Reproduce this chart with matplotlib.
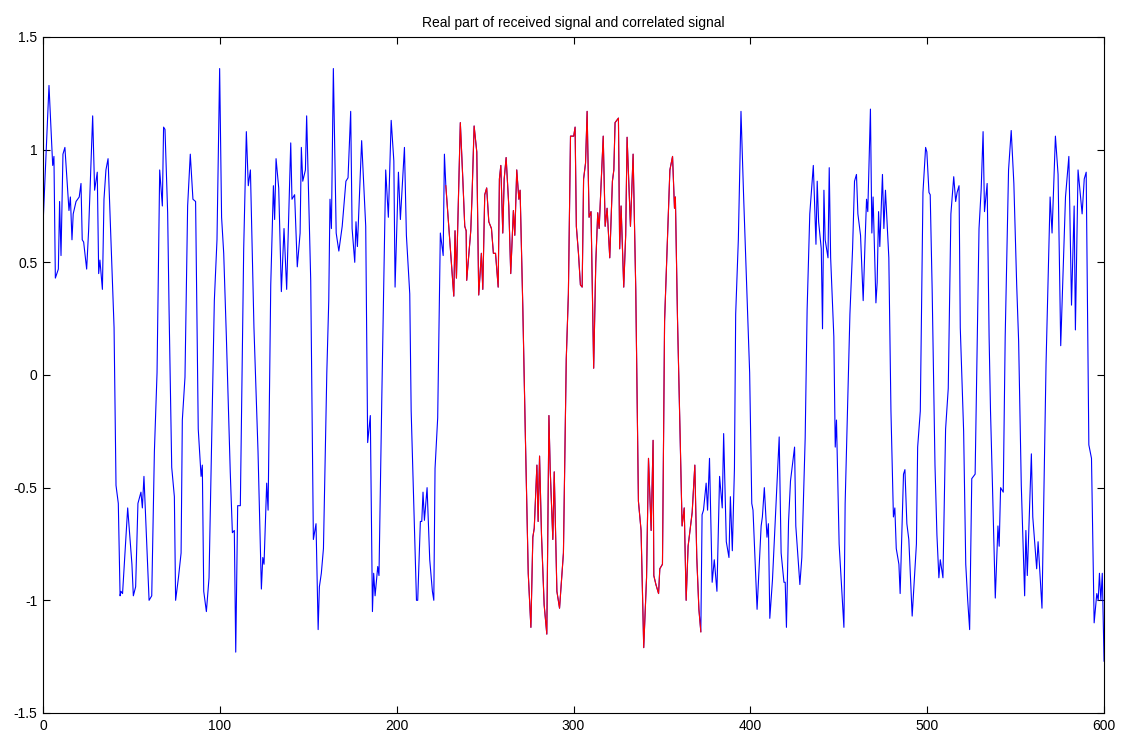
import matplotlib
matplotlib.use("Agg")
import matplotlib.pyplot as plt
import numpy as np

# vertices (sample index, real part)
sample = [
    0, 3.4, 5.5, 6.2, 7, 8.7, 9.4, 10.2, 11.3, 12.4, 14.7, 15.5, 16.4, 17.1, 18.7, 20.5, 21.5, 22.2, 23,
    24.7, 25.8, 28.1, 29.2, 30.7, 31.5, 32.2, 33.6, 34.5, 35.6, 36.8, 40.2, 41.3, 42.6, 43.6, 44.1, 45,
    47.9, 50.3, 51.1, 52.4, 53.7, 55.4, 56.2, 57.1,
    60, 61.5, 63, 64.5, 66, 67.5, 68.2, 69, 70.5, 71.3, 72.8, 74.3, 75, 76.6, 78.1, 78.8, 80.3, 81.8,
    83.3, 84.8, 86.3, 87.8, 89.4, 90.1, 90.9, 92.4, 93.9, 96.9, 98.4, 99.9, 101, 102.2, 103.7, 105.9,
    107.1, 108.2, 109, 110.1, 111.6, 113.5, 115, 116.1, 117.3,
    119.3, 121.6, 123.5, 124.3, 125, 126.5, 127.3, 128.8, 130.3, 131, 131.8, 133.3, 134.8, 136.3, 137.8,
    140.1, 140.8, 142.3, 143.8, 145.4, 146.1, 146.9, 148.4, 149.1, 151.4, 152.9, 154.4, 155.6, 156.3,
    157.4, 158.6, 160.5, 161.6, 162.3, 163.1, 164.2, 165.8, 167.3, 169.2, 171.3, 172.5, 174, 174.8,
    176.3, 177, 177.8,
    180.2, 182.5, 183.6, 185.1, 186.3, 187, 187.8, 189.3, 190, 191.6, 193.8, 195.3, 196.9, 198.4, 199.1,
    201, 202.1, 204.4, 205.5, 207.4, 208.2, 211.2, 211.9, 213.4, 214.2, 214.9, 215.7, 217.2, 218.7,
    220.2, 221, 221.7, 223.2, 224.7, 226.3, 227, 227.8, 230, 232.3, 233, 233.8, 236,
    237.4, 238.5, 239.3, 239.6, 241.9, 242.6, 243.8, 245.3, 246.4, 247.9, 248.7, 249.8, 250.9, 252.1,
    253.6, 254.7, 255.9, 257.4, 258.1, 258.9, 260, 260.8, 261.9, 263.4, 264.5, 266, 266.8, 267.9, 269.1,
    269.8, 271.3, 272.8, 274.4, 275.9, 277, 277.8, 279.3, 280, 280.8, 281.9, 283.4, 284.9, 286.1, 286.8,
    288.3, 289.1, 290.6, 292.1, 294.3, 295.9,
    297.1, 298.3, 300.1, 300.9, 301.6, 302.8, 303.9, 304.9, 305.7, 306.8, 307.7, 308.8, 309.9, 311.4,
    312.6, 313.7, 314.5, 315.6, 316.8, 317.9, 319, 320.5, 322, 322.8, 323.5, 325.4, 326.1, 326.9, 328.4,
    329.5, 330.3, 332.2, 333.7, 335.2, 336.7, 338.2, 339.7, 341.3, 342.4, 343.9, 345, 345.4, 346.6,
    348.1, 348.8, 350.3, 351.5, 353, 354.5, 356, 357.1, 357.6,
    358.8, 360.3, 361.4, 362.6, 363.7, 364.8, 367.1, 368.6, 369.7, 370.9, 372, 372.7, 373.5, 375, 375.8,
    376.9, 378.4, 379.6, 381.1, 382.6, 384.1, 384.9, 386.4, 387.9, 388.7, 389.8, 391, 391.7, 393.2,
    394.7, 396.2, 398.1, 399.6, 400.8, 401.5, 403.8, 406.1, 406.8, 407.9, 409.4, 410.2, 411, 412.5,
    414.8, 416.3,
    417.4, 419, 419.7, 420.4, 421.6, 422.7, 425, 425.7, 428, 429.1, 431, 432.1, 433.6, 435.6, 437.1,
    437.8, 438.6, 440.1, 440.8, 441.6, 442.3, 443.9, 444.6, 445.4, 447.2, 448, 448.7, 450.2, 451.7,
    452.9, 453.6, 455.1, 456.3, 457.8, 458.9, 460, 460.8, 462.3, 463.8, 464.9, 465.7, 466.4, 467.9,
    468.7, 469.4, 471, 471.7, 472.5, 473.2, 474.7, 475.5,
    476.4, 478.3, 479.5, 480.9, 481.7, 482.5, 484, 484.7, 486.6, 487.4, 488.5, 489.6, 491.5, 493.9,
    494.6, 496.1, 497.6, 499.1, 499.8, 501, 501.7, 502.8, 504.4, 505.5, 506.6, 507.4, 508.9, 510.4,
    511.9, 513.4, 515, 516.1, 516.9, 518, 518.7, 520.6, 521.8, 522.9, 524, 525.2, 527.1, 529.3, 530.5,
    531.6, 532.4, 533.9,
    535, 535.8, 536.9, 538.5, 540, 540.7, 541.5, 543, 544.1, 546, 547.5, 549, 550.6, 551.7, 553.2,
    555.1, 555.8, 556.6, 558.9, 559.7, 561.9, 562.7, 564.9, 567.2, 569.5, 570.6, 572.5, 574, 575.5,
    578.2, 580.1, 581.6, 583.1, 583.8, 585.3, 587.6, 588.8, 589.9, 591.4, 592.9, 594.4, 595.9, 596.7,
    597.4, 598.2, 599, 600,
]
real_part = [
    0.66, 1.285, 0.93, 0.97, 0.43, 0.47, 0.77, 0.53, 0.98, 1.01, 0.73, 0.79, 0.60, 0.715, 0.77, 0.79, 0.85, 0.60, 0.59,
    0.47, 0.64, 1.15, 0.82, 0.90, 0.45, 0.51, 0.38, 0.78, 0.91, 0.96, 0.21, -0.49, -0.57, -0.98, -0.96, -0.97,
    -0.59, -0.84, -0.98, -0.94, -0.57, -0.52, -0.59, -0.45,
    -1.0, -0.98, -0.34, 0.01, 0.91, 0.75, 1.10, 1.09, 0.72, 0.29, -0.41, -0.54, -1.0, -0.90, -0.79, -0.20, -0.01, 0.75,
    0.98, 0.78, 0.77, -0.24, -0.45, -0.40, -0.96, -1.05, -0.90, 0.33, 0.60, 1.36, 0.70, 0.54, 0.17, -0.43,
    -0.70, -0.69, -1.23, -0.58, -0.58, 0.56, 1.08, 0.84, 0.91,
    0.21, -0.34, -0.95, -0.81, -0.84, -0.48, -0.60, 0.40, 0.84, 0.69, 0.96, 0.83, 0.37, 0.65, 0.38,
    1.03, 0.78, 0.80, 0.48, 0.63, 1.01, 0.86, 0.91, 1.15, 0.42, -0.73, -0.66, -1.13, -0.94,
    -0.88, -0.77, 0.01, 0.33, 0.78, 0.65, 1.36, 0.63, 0.55, 0.66, 0.86, 0.875, 1.17, 0.65,
    0.50, 0.68, 0.57,
    1.04, 0.66, -0.30, -0.18, -1.05, -0.88, -0.98, -0.85, -0.89, -0.10, 0.91, 0.70, 1.13, 0.95, 0.39,
    0.90, 0.69, 1.01, 0.62, 0.36, -0.16, -1.0, -1.0, -0.65, -0.65, -0.52, -0.645, -0.50, -0.82,
    -0.96, -1.0, -0.415, -0.19, 0.63, 0.53, 0.98, 0.84, 0.60, 0.35, 0.64, 0.43, 1.12,
    0.87, 0.66, 0.64, 0.42, 0.64, 0.79, 1.105, 0.99, 0.355, 0.54, 0.38, 0.80, 0.83, 0.68,
    0.65, 0.54, 0.54, 0.39, 0.87, 0.93, 0.63, 0.87, 0.965, 0.75, 0.45, 0.73, 0.62, 0.91, 0.78,
    0.82, 0.31, -0.28, -0.88, -1.12, -0.72, -0.68, -0.40, -0.65, -0.36, -0.71, -1.02, -1.15, -0.18, -0.415,
    -0.73, -0.43, -0.96, -1.035, -0.79, 0.07,
    0.36, 1.06, 1.06, 1.10, 0.66, 0.54, 0.40, 0.39, 0.87, 0.94, 1.17, 0.70, 0.725, 0.03,
    0.50, 0.72, 0.65, 0.85, 1.06, 0.66, 0.74, 0.52, 0.86, 0.91, 1.12, 1.14, 0.56, 0.75, 0.39,
    0.62, 1.055, 0.66, 0.98, 0.38, -0.56, -0.69, -1.21, -0.90, -0.37, -0.69, -0.29, -0.89, -0.93,
    -0.97, -0.86, -0.84, 0.24, 0.58, 0.91, 0.97, 0.74, 0.79,
    0.25, -0.27, -0.67, -0.59, -1.0, -0.76, -0.61, -0.40, -0.81, -1.04, -1.14, -0.62, -0.60, -0.48, -0.60,
    -0.37, -0.92, -0.82, -0.96, -0.45, -0.59, -0.26, -0.74, -0.81, -0.54, -0.78, -0.415, 0.27, 0.60,
    1.17, 0.79, 0.36, 0.01, -0.57, -0.60, -1.04, -0.67, -0.63, -0.50, -0.72, -0.66, -1.08, -0.91,
    -0.53, -0.275,
    -0.79, -0.92, -0.92, -1.12, -0.65, -0.47, -0.32, -0.67, -0.93, -0.81, -0.28, 0.29, 0.715, 0.93, 0.58,
    0.86, 0.68, 0.56, 0.205, 0.82, 0.60, 0.52, 0.92, 0.52, 0.17, -0.32, -0.20, -0.75, -0.96,
    -1.12, -0.57, -0.10, 0.27, 0.56, 0.86, 0.89, 0.715, 0.62, 0.33, 0.60, 0.78, 0.725, 1.18,
    0.63, 0.79, 0.32, 0.41, 0.725, 0.57, 0.89, 0.65,
    0.82, 0.52, -0.16, -0.63, -0.59, -0.77, -0.84, -0.97, -0.44, -0.42, -0.66, -0.73, -1.07, -0.75,
    -0.32, -0.16, 0.81, 1.01, 0.99, 0.81, 0.80, 0.38, -0.40, -0.71, -0.90, -0.82, -0.90, -0.24,
    -0.06, 0.715, 0.88, 0.77, 0.81, 0.84, 0.21, -0.25, -0.84, -1.0, -1.13, -0.46, -0.44, 0.65, 0.82,
    1.08, 0.725, 0.85,
    0.17, -0.16, -0.49, -0.99, -0.67, -0.76, -0.50, -0.52, 0.17, 0.91, 1.085, 0.85, 0.40, 0.15, -0.49,
    -0.98, -0.69, -0.89, -0.35, -0.63, -0.86, -0.74, -1.035, 0.05, 0.79, 0.63, 1.06, 0.89, 0.13,
    0.79, 0.97, 0.31, 0.75, 0.20, 0.91, 0.715, 0.87, 0.90, -0.31, -0.37, -1.10, -0.97, -1.0,
    -0.88, -1.0, -0.88, -1.27,
]

# correlated window (drawn in red on top)
corr_start, corr_end = 227.8, 372.0

plt.rcParams['axes.unicode_minus'] = False
plt.rcParams['font.family'] = ['Liberation Sans', 'DejaVu Sans']

fig = plt.figure(figsize=(11.22, 7.37), dpi=100)
ax = fig.add_axes([0.0383, 0.0326, 0.9457, 0.9172])

x = np.array(sample)
y = np.array(real_part)
ax.plot(x, y, color='#0000ff', linewidth=0.8)
mask = (x >= corr_start) & (x <= corr_end)
ax.plot(x[mask], y[mask], color='#ff0000', linewidth=0.8)

ax.set_xlim(0, 600)
ax.set_ylim(-1.5, 1.5)
ax.set_xticks(np.arange(0, 601, 100))
ax.set_xticklabels([str(v) for v in range(0, 601, 100)])
yt = [-1.5, -1, -0.5, 0, 0.5, 1, 1.5]
ax.set_yticks(yt)
ax.set_yticklabels(['-1.5', '-1', '-0.5', '0', '0.5', '1', '1.5'])
ax.tick_params(direction='in', top=True, right=True, length=5, labelsize=10, pad=4)
for s in ax.spines.values():
    s.set_linewidth(0.8)

ax.set_title("Real part of received signal and correlated signal", fontsize=10, pad=7)

plt.savefig("out.png", dpi=100)
